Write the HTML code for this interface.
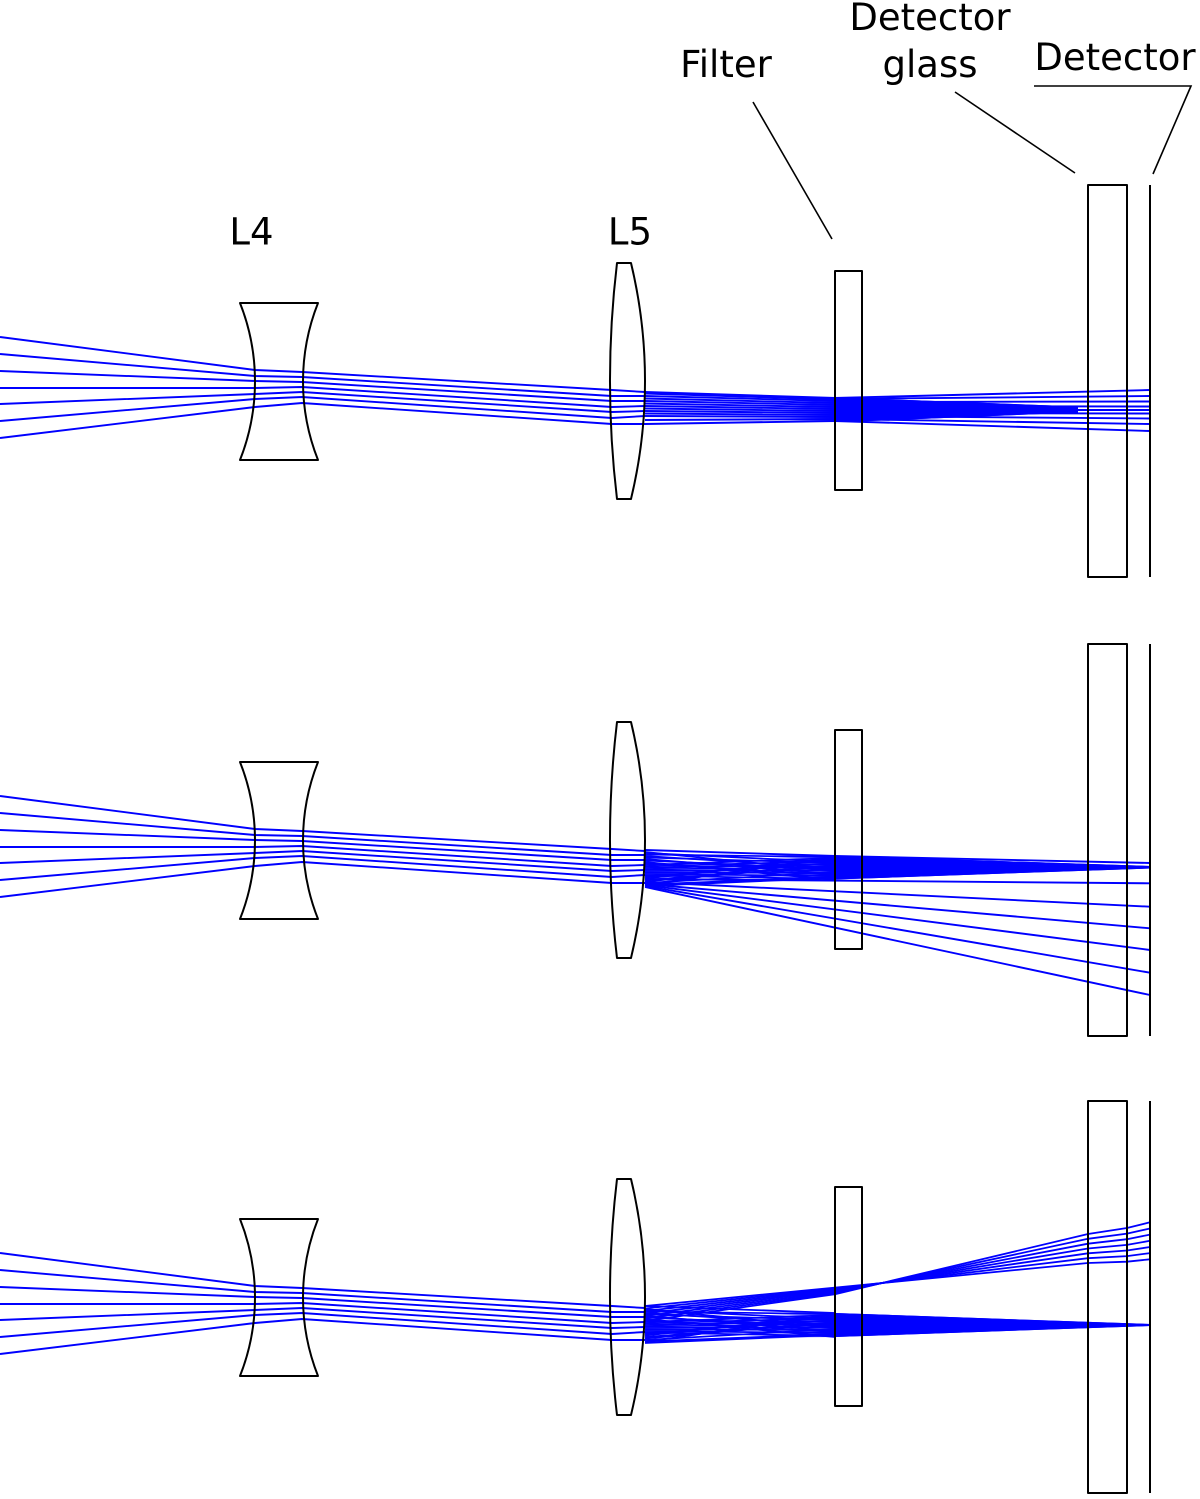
<!DOCTYPE html>
<html>
<head>
<meta charset="utf-8">
<style>
  html, body { margin: 0; padding: 0; background: #ffffff; }
  svg { display: block; }
  .lbl { font-family: "DejaVu Sans", "Liberation Sans", sans-serif; font-size: 37px; fill: #000; }
</style>
</head>
<body>
<svg width="1200" height="1499" viewBox="0 0 1200 1499" xmlns="http://www.w3.org/2000/svg">
  <rect x="0" y="0" width="1200" height="1499" fill="#ffffff"/>

  <defs>
    <linearGradient id="fadeA" gradientUnits="userSpaceOnUse" x1="770" y1="0" x2="835" y2="0">
      <stop offset="0" stop-color="#0000ff" stop-opacity="0"/>
      <stop offset="1" stop-color="#0000ff" stop-opacity="1"/>
    </linearGradient>
    <linearGradient id="fadeB" gradientUnits="userSpaceOnUse" x1="790" y1="0" x2="836" y2="0">
      <stop offset="0" stop-color="#0000ff" stop-opacity="0"/>
      <stop offset="1" stop-color="#0000ff" stop-opacity="1"/>
    </linearGradient>
    <!-- common incoming rays (panel-local coordinates) -->
    <g id="inrays" fill="none" stroke="#0000ff" stroke-width="1.9">
      <polyline points="0,337 255,370 302,372 612,390 645,392"/>
      <polyline points="0,354 255,376 302,377 612,396 645,396"/>
      <polyline points="0,371 255,381 302,382 612,401 645,401"/>
      <polyline points="0,388 255,388 302,387 612,407 645,406"/>
      <polyline points="0,404 255,394 302,392 612,412 645,411"/>
      <polyline points="0,421 255,399 302,397 612,418 645,416"/>
      <polyline points="0,438 255,407 302,403 612,424 645,424"/>
    </g>
    <!-- optics (panel-local) -->
    <g id="optics" fill="none" stroke="#000" stroke-width="2" stroke-linejoin="round">
      <path d="M240,303 A213,213 0 0 1 240,460 L318,460 A213,213 0 0 1 318,303 Z"/>
      <path d="M617,263 L631,263 A504,504 0 0 1 631,499 L617,499 A998,998 0 0 1 617,263 Z"/>
      <rect x="835" y="271" width="27" height="219"/>
      <rect x="1088" y="185" width="39" height="392"/>
      <line x1="1150" y1="185" x2="1150" y2="577"/>
    </g>
    <!-- hatch between L5 and filter for panels 2/3 -->
    <g id="hatch" fill="none" stroke="#0000ff" stroke-width="1.7">
      <line x1="645" y1="394" x2="835" y2="403"/>
      <line x1="645" y1="397" x2="835" y2="409"/>
      <line x1="645" y1="400" x2="835" y2="415"/>
      <line x1="645" y1="403" x2="835" y2="421"/>
      <line x1="645" y1="406" x2="835" y2="399"/>
      <line x1="645" y1="409" x2="835" y2="405"/>
      <line x1="645" y1="412" x2="835" y2="411"/>
      <line x1="645" y1="415" x2="835" y2="417"/>
      <line x1="645" y1="418" x2="835" y2="401"/>
      <line x1="645" y1="421" x2="835" y2="407"/>
      <line x1="645" y1="424" x2="835" y2="413"/>
      <line x1="645" y1="427" x2="835" y2="419"/>
      <line x1="645" y1="393" x2="835" y2="412"/>
      <line x1="645" y1="426" x2="835" y2="398"/>
      <line x1="645" y1="395.5" x2="835" y2="398"/>
      <line x1="645" y1="398.5" x2="835" y2="404"/>
      <line x1="645" y1="401.5" x2="835" y2="410"/>
      <line x1="645" y1="404.5" x2="835" y2="416"/>
      <line x1="645" y1="407.5" x2="835" y2="402"/>
      <line x1="645" y1="410.5" x2="835" y2="408"/>
      <line x1="645" y1="413.5" x2="835" y2="414"/>
      <line x1="645" y1="416.5" x2="835" y2="420"/>
      <line x1="645" y1="419.5" x2="835" y2="400"/>
      <line x1="645" y1="422.5" x2="835" y2="406"/>
      <line x1="645" y1="425.5" x2="835" y2="418"/>
    </g>
  </defs>

  <!-- ============ PANEL 1 ============ -->
  <g>
    <use href="#inrays"/>
    <g fill="none" stroke="#0000ff" stroke-width="1.9">
      <line x1="645" y1="392" x2="835" y2="398"/>
      <line x1="645" y1="396" x2="835" y2="401"/>
      <line x1="645" y1="401" x2="835" y2="405"/>
      <line x1="645" y1="406" x2="835" y2="409"/>
      <line x1="645" y1="411" x2="835" y2="413"/>
      <line x1="645" y1="416" x2="835" y2="417"/>
      <line x1="645" y1="424" x2="835" y2="421"/>
      <line x1="645" y1="393.5" x2="835" y2="399.5"/>
      <line x1="645" y1="398.5" x2="835" y2="403"/>
      <line x1="645" y1="403.5" x2="835" y2="407"/>
      <line x1="645" y1="408.5" x2="835" y2="411"/>
      <line x1="645" y1="413.5" x2="835" y2="415"/>
      <line x1="645" y1="420" x2="835" y2="419"/>
      <line x1="835" y1="398" x2="1150" y2="390"/>
      <line x1="835" y1="399" x2="1150" y2="396"/>
      <line x1="835" y1="402" x2="1150" y2="401.5"/>
      <line x1="835" y1="406" x2="1150" y2="406.5"/>
      <line x1="835" y1="410" x2="1150" y2="410"/>
      <line x1="835" y1="413" x2="1150" y2="413.5"/>
      <line x1="835" y1="416" x2="1150" y2="418.5"/>
      <line x1="835" y1="419" x2="1150" y2="424"/>
      <line x1="835" y1="421" x2="1150" y2="431"/>
    </g>
    <polygon points="790,397.5 836,398 870,398.5 1078,406.5 1078,412.5 870,421 836,421 790,421.5" fill="url(#fadeB)"/>
    <polygon points="836,398 870,398.5 1078,406.5 1078,412.5 870,421 836,421" fill="#0000ff"/>
    <use href="#optics"/>
  </g>

  <!-- ============ PANEL 2 ============ -->
  <g transform="translate(0,459)">
    <use href="#inrays"/>
    <use href="#hatch"/>
    <g fill="none" stroke="#0000ff" stroke-width="1.9">
      <polyline points="645,391 835,397 1150,404"/>
      <!-- diverging rays -->
      <line x1="645" y1="420" x2="1150" y2="424.3"/>
      <line x1="645" y1="423" x2="1150" y2="447.7"/>
      <line x1="645" y1="425" x2="1150" y2="469.3"/>
      <line x1="645" y1="426" x2="1150" y2="491"/>
      <line x1="645" y1="427" x2="1150" y2="513.7"/>
      <line x1="645" y1="428" x2="1150" y2="536"/>
    </g>
    <polygon points="770,396 835,396.5 1150,407 1150,409.5 835,420.5 770,421" fill="url(#fadeA)"/>
    <polygon points="835,396.5 1150,407 1150,409.5 835,420.5" fill="#0000ff"/>
    <use href="#optics"/>
  </g>

  <!-- ============ PANEL 3 ============ -->
  <g transform="translate(0,916)">
    <use href="#inrays"/>
    <use href="#hatch"/>
    <g fill="none" stroke="#0000ff" stroke-width="1.8">
      <line x1="645" y1="390" x2="835" y2="397"/>
      <!-- upper crossing fan -->
      <polyline points="645,405 835,378.2 1088,318 1127,312 1150,306.3"/>
      <polyline points="645,402.5 835,377.1 1088,322.8 1127,317.6 1150,312.5"/>
      <polyline points="645,400 835,376 1088,327.7 1127,323.2 1150,318.6"/>
      <polyline points="645,397.5 835,374.9 1088,332.5 1127,328.9 1150,324.8"/>
      <polyline points="645,395 835,373.8 1088,337.3 1127,334.5 1150,331"/>
      <polyline points="645,392.5 835,372.7 1088,342.2 1127,340.1 1150,337.1"/>
      <polyline points="645,390 835,371.6 1088,347 1127,345.7 1150,343.3"/>
    </g>
    <polygon points="770,396.5 835,397 1150,408 1150,410 835,421 770,421.5" fill="url(#fadeA)"/>
    <polygon points="835,397 1150,408 1150,410 835,421" fill="#0000ff"/>
    <use href="#optics"/>
  </g>

  <!-- labels -->
  <text class="lbl" x="251.5" y="244.5" text-anchor="middle">L4</text>
  <text class="lbl" x="630" y="244.5" text-anchor="middle">L5</text>
  <text class="lbl" x="726" y="77" text-anchor="middle">Filter</text>
  <text class="lbl" x="930" y="30" text-anchor="middle">Detector</text>
  <text class="lbl" x="930" y="77" text-anchor="middle">glass</text>
  <text class="lbl" x="1115" y="70" text-anchor="middle">Detector</text>

  <!-- leader lines -->
  <g fill="none" stroke="#000" stroke-width="1.6">
    <line x1="753" y1="102" x2="832" y2="239"/>
    <line x1="955" y1="92" x2="1075" y2="173"/>
    <polyline points="1034,86 1191,86 1153,174"/>
  </g>
</svg>
</body>
</html>
